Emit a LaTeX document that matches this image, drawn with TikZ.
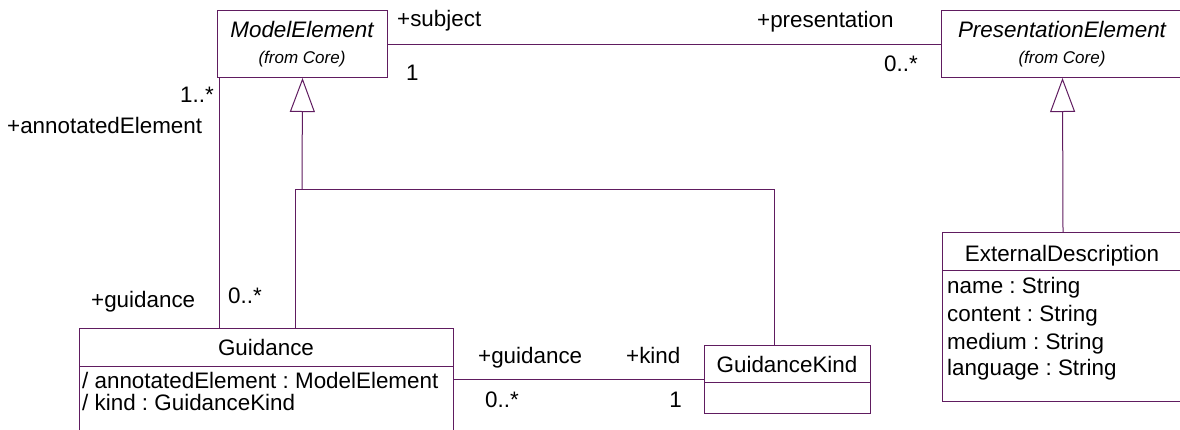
\documentclass[tikz,border=0pt]{standalone}
\usepackage{fontspec}
\setmainfont{Liberation Sans}
\usetikzlibrary{arrows.meta}
\definecolor{umlline}{RGB}{96,28,96}
\frenchspacing
\begin{document}
\begin{tikzpicture}[x=1pt,y=-1pt,
  box/.style={draw=umlline, line width=1pt, inner sep=0pt, anchor=north west, fill=white},
  conn/.style={draw=umlline, line width=1pt},
  gen/.style={conn, -{Triangle[open, length=34pt, width=25pt]}},
  lbl/.style={inner sep=0pt, font=\fontsize{22.4}{26}\selectfont},
  ital/.style={inner sep=0pt, font=\fontsize{22.4}{26}\selectfont\itshape},
  small/.style={inner sep=0pt, font=\fontsize{17}{20}\selectfont\itshape}]
\useasboundingbox (0,0) rectangle (1180,429);
\clip (0,0) rectangle (1180,429);
\fill[white] (0,0) rectangle (1180,429);

% class boxes
\node[box, minimum width=170pt, minimum height=67pt] (me) at (217,10) {};
\node[box, minimum width=242pt, minimum height=67pt] (pe) at (941,10) {};
\node[box, minimum width=374pt, minimum height=130pt] (gd) at (79,328) {};
\node[box, minimum width=166pt, minimum height=68pt] (gk) at (704,345) {};
\node[box, minimum width=241pt, minimum height=169pt] (ed) at (942,232) {};

% compartments
\draw[conn] ([yshift=-38pt]gd.north west) -- ([yshift=-38pt]gd.north east);
\draw[conn] ([yshift=-37pt]gk.north west) -- ([yshift=-37pt]gk.north east);
\draw[conn] ([yshift=-38pt]ed.north west) -- ([yshift=-38pt]ed.north east);

% class texts
\node[ital, anchor=base] (met) at (302,37) {ModelElement};
\node[small, anchor=base] (mef) at (302,63) {(from Core)};
\node[ital, anchor=base] (pet) at (1062,37) {PresentationElement};
\node[small, anchor=base] (pef) at (1062,63) {(from Core)};
\node[lbl, anchor=base] (gdt) at (266,355) {Guidance};
\node[lbl, anchor=base west] (gda1) at (82,388) {/ annotatedElement : ModelElement};
\node[lbl, anchor=base west] (gda2) at (82,410) {/ kind : GuidanceKind};
\node[lbl, anchor=base] (gkt) at (787,372) {GuidanceKind};
\node[lbl, anchor=base] (edt) at (1062,261) {ExternalDescription};
\node[lbl, anchor=base west] (eda1) at (947,293) {name : String};
\node[lbl, anchor=base west] (eda2) at (947,321) {content : String};
\node[lbl, anchor=base west] (eda3) at (947,349) {medium : String};
\node[lbl, anchor=base west] (eda4) at (947,375) {language : String};

% associations
\draw[conn] (me.east) -- (pe.west);
\coordinate (ax) at (219,0);
\draw[conn] (me.south -| ax) -- (gd.north -| ax);
\draw[conn] (gk.west -| gd.east) -- (gk.west);

% generalizations
\coordinate (jl) at (295,189);
\coordinate (jm) at (302,189);
\coordinate (jr) at (774,189);
\draw[conn] (gd.north -| jl) -- (jl) -- (jr) -- (gk.north -| jr);
\draw[gen] (jm) -- (me.south);
\draw[gen] (ed.north) -- (pe.south);

% role names and multiplicities
\node[lbl, anchor=base west] (l1) at (397,26) {+subject};
\node[lbl, anchor=base west] (l2) at (406,80) {1};
\node[lbl, anchor=base west] (l3) at (757,27) {+presentation};
\node[lbl, anchor=base east] (l4) at (918,71) {0..*};
\node[lbl, anchor=base east] (l5) at (214,102) {1..*};
\node[lbl, anchor=base west] (l6) at (7,133) {+annotatedElement};
\node[lbl, anchor=base west] (l7) at (91,307) {+guidance};
\node[lbl, anchor=base west] (l8) at (228,303) {0..*};
\node[lbl, anchor=base west] (l9) at (478,363) {+guidance};
\node[lbl, anchor=base west] (l10) at (626,363) {+kind};
\node[lbl, anchor=base west] (l11) at (485,407) {0..*};
\node[lbl, anchor=base east] (l12) at (682,407) {1};
\end{tikzpicture}
\end{document}
